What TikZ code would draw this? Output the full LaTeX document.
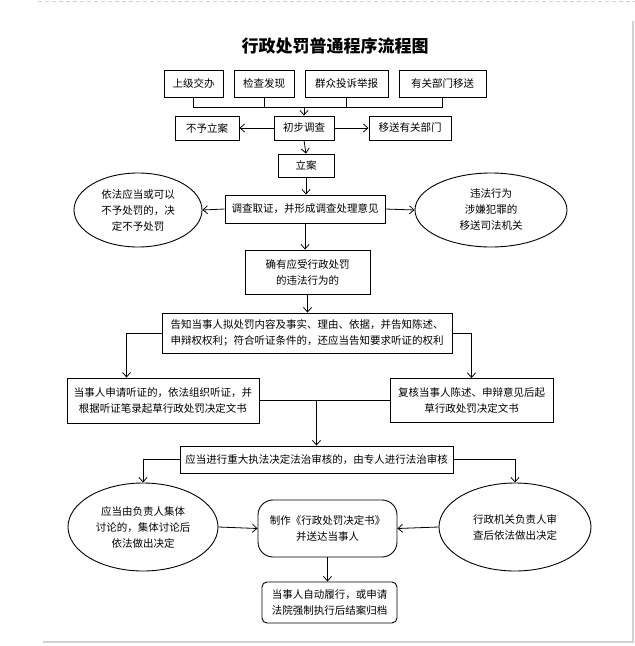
\documentclass[tikz,border=0pt]{standalone}
\usepackage{fontspec}
\newfontfamily\cjk{Noto Sans CJK SC}
\usetikzlibrary{shapes.geometric,arrows.meta}

\tikzset{
  procbox/.style={draw,line width=0.9pt,inner sep=0pt,align=center,
    font=\cjk\fontsize{10.5}{16}\selectfont},
  ovalbox/.style={procbox,ellipse},
  arr/.style={line width=0.8pt,-{Straight Barb[length=4.5pt,width=8pt]}},
  link/.style={line width=0.8pt}
}

\begin{document}
\begin{tikzpicture}[x=1pt,y=-1pt]
\useasboundingbox (0,0) rectangle (635,646);

% page edges
\draw[gray!35,line width=1pt,dash pattern=on 4pt off 3pt](38,1)--(635,1);
\draw[gray!35,line width=1.5pt](633,21)--(633,642)--(43,642);

\node[font=\cjk\bfseries\fontsize{17}{20}\selectfont](title) at (335,46){行政处罚普通程序流程图};

% sources
\node[procbox,minimum width=59,minimum height=27](sj) at (193.5,83.5){上级交办};
\node[procbox,minimum width=60,minimum height=27](jc) at (264,83.5){检查发现};
\node[procbox,minimum width=83,minimum height=27](qz) at (346.5,83.5){群众投诉举报};
\node[procbox,minimum width=87,minimum height=27](yg) at (442.5,83.5){有关部门移送};
\coordinate (hub) at (304,107);

\node[procbox,minimum width=64,minimum height=24](bylx) at (207,128){不予立案};
\node[procbox,minimum width=60,minimum height=24](cbdc) at (304,128){初步调查};
\node[procbox,minimum width=82,minimum height=24](ysyg) at (410,128){移送有关部门};
\node[procbox,minimum width=56,minimum height=23](la) at (306,165.5){立案};

\node[procbox,minimum width=160,minimum height=28](dcqz) at (305,209){调查取证，并形成调查处理意见};
\node[ovalbox,minimum width=128,minimum height=74](bycf) at (138,210){依法应当或可以\\不予处罚的，决\\定不予处罚};
\node[ovalbox,minimum width=152,minimum height=74](ysfj) at (491,210){违法行为\\涉嫌犯罪的\\移送司法机关};
\node[procbox,minimum width=125,minimum height=44](qy) at (307.5,272){确有应受行政处罚\\的违法行为的};

\node[procbox,minimum width=290,minimum height=40](gz) at (307,333){告知当事人拟处罚内容及事实、理由、依据，并告知陈述、\\申辩权权利；符合听证条件的，还应当告知要求听证的权利};
\node[procbox,minimum width=192,minimum height=45](tz) at (163,400.5){当事人申请听证的，依法组织听证，并\\根据听证笔录起草行政处罚决定文书};
\node[procbox,minimum width=163,minimum height=44](fh) at (471.5,400.5){复核当事人陈述、申辩意见后起\\草行政处罚决定文书};

\node[procbox,minimum width=273,minimum height=27](yd) at (316.5,459.5){应当进行重大执法决定法治审核的，由专人进行法治审核};
\node[ovalbox,minimum width=150,minimum height=88](jt) at (143,527){应当由负责人集体\\讨论的，集体讨论后\\依法做出决定};
\node[ovalbox,minimum width=152,minimum height=88](fz) at (515,527){行政机关负责人审\\查后依法做出决定};
\node[procbox,rounded corners=15pt,minimum width=139,minimum height=57](zz) at (327.5,528.5){制作《行政处罚决定书》\\并送达当事人};
\node[procbox,rounded corners=5pt,minimum width=135,minimum height=41](ls) at (329.5,602.5){当事人自动履行，或申请\\法院强制执行后结案归档};

% connectors
\draw[link](sj.south)|-(yg.south|-hub)--(yg.south);
\draw[link](jc.south)--(jc.south|-hub);
\draw[link](qz.south)--(qz.south|-hub);
\draw[arr](hub)--(cbdc.north);
\draw[arr](cbdc.west)--(bylx.east);
\draw[arr](cbdc.east)--(ysyg.west);
\draw[arr](cbdc.south)--(la.north);
\draw[arr](la.south)--(dcqz.north-|la.south);
\draw[arr](dcqz.west)--(bycf.east);
\draw[arr](dcqz.east)--(ysfj.west);
\draw[arr](dcqz.south)--(qy.north-|dcqz.south);
\draw[arr](qy.south)--(gz.north-|qy.south);
\draw[arr](gz.west)-|([xshift=60pt]tz.north west);
\draw[arr](gz.east)-|(fh.north);
\draw[link](tz.east)--(fh.west);
\draw[arr](yd.north|-tz.east)--(yd.north);
\draw[arr](yd.west)-|(jt.north);
\draw[arr](yd.east)-|(fz.north);
\draw[arr](jt.east)--(zz.west);
\draw[arr](fz.west)--(zz.east);
\draw[arr](zz.south)--(ls.north-|zz.south);

\end{tikzpicture}
\end{document}
